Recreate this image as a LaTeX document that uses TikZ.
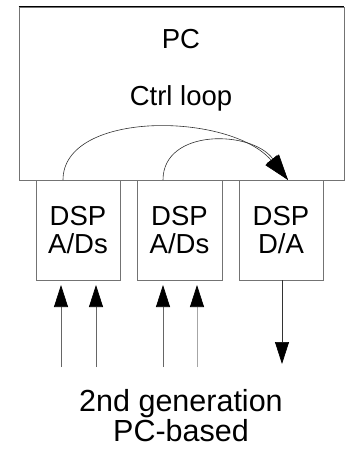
\documentclass[tikz,border=0pt]{standalone}
\usepackage{fontspec}
\setmainfont{Liberation Sans}
\usetikzlibrary{arrows.meta}
\begin{document}
\begin{tikzpicture}[x=1pt,y=-1pt,
  boxline/.style={draw=black!55,line width=0.7pt},
  lbl/.style={anchor=base,inner sep=0pt,font=\fontsize{27.5}{30}\selectfont},
  biglbl/.style={anchor=base,inner sep=0pt,font=\fontsize{30.5}{32}\selectfont},
  sig/.style={draw=black!60,line width=0.7pt,-{Triangle[length=22pt,width=14pt,color=black]}},
  loopar/.style={draw=black!80,line width=0.6pt,-{Triangle[length=26pt,width=15pt,color=black]}}]
\useasboundingbox (0,0) rectangle (350,453);
% PC box
\node[boxline,minimum width=325pt,minimum height=173pt,inner sep=0pt] (pc) at (181.5,93.5) {};
\draw[black,line width=1.2pt] (pc.north west) -- (pc.north east);
\node[lbl] (pct) at (181,48) {PC};
\node[lbl] (ctrl) at (181,105) {Ctrl loop};
% DSP boxes
\node[boxline,minimum width=84pt,minimum height=100pt,inner sep=0pt] (d1) at (78,230) {};
\node[boxline,minimum width=85pt,minimum height=100pt,inner sep=0pt] (d2) at (179.5,230) {};
\node[boxline,minimum width=84pt,minimum height=100pt,inner sep=0pt] (d3) at (281,230) {};
\node[lbl] (d1a) at (78,225) {DSP};
\node[lbl] (d1b) at (78,253) {A/Ds};
\node[lbl] (d2a) at (179.5,225) {DSP};
\node[lbl] (d2b) at (179.5,253) {A/Ds};
\node[lbl] (d3a) at (281,225) {DSP};
\node[lbl] (d3b) at (281,253) {D/A};
% loop curves
\coordinate (s1) at (63,180);
\coordinate (s2) at (163,180);
\coordinate (tip) at (288,180);
\draw[loopar] (s1) .. controls (63,110) and (230,112) .. (tip);
\draw[loopar] (s2) .. controls (163,128) and (252,130) .. (tip);
% input arrows
\coordinate (i1) at (61,367);
\coordinate (i2) at (96,367);
\coordinate (i3) at (163,367);
\coordinate (i4) at (197,367);
\coordinate (t1) at (61,285);
\coordinate (t2) at (96,285);
\coordinate (t3) at (163,285);
\coordinate (t4) at (197,285);
\draw[sig] (i1) -- (t1);
\draw[sig] (i2) -- (t2);
\draw[sig] (i3) -- (t3);
\draw[sig,draw=black!35] (i4) -- (t4);
% output arrow
\coordinate (o1) at (282,364);
\draw[sig,draw=black!80] (d3.south -| o1) -- (o1);
% caption
\node[biglbl] (cap1) at (181,411) {2nd generation};
\node[biglbl] (cap2) at (181,441) {PC-based};
\end{tikzpicture}
\end{document}
